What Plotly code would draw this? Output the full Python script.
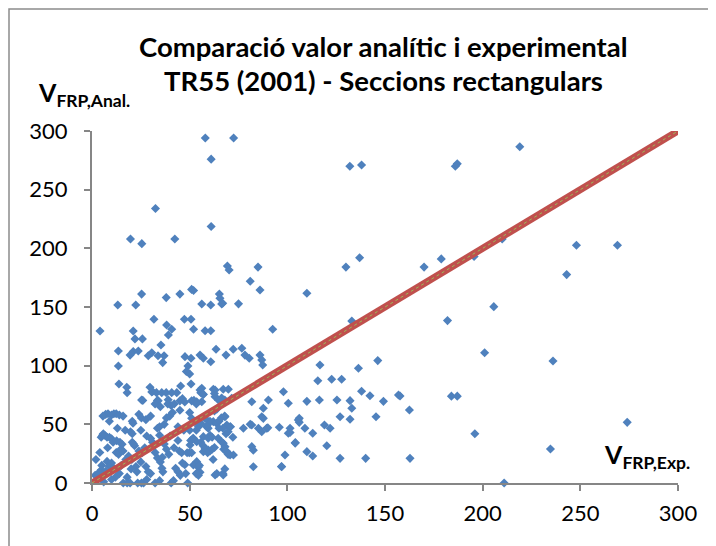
import plotly.graph_objects as go

v_exp = [
    58, 72.5, 61, 32.5, 61, 19.7, 25.5, 42.4, 132, 138, 186, 187, 219, 210, 248, 269, 243, 195.6, 178.8, 170,
    137, 130, 85, 69.3, 70.2, 81, 86, 110, 75, 65.2, 65.5, 66.9, 66.4, 56.2, 60.8, 51, 52, 45, 38, 22.4,
    13.2, 25.4, 4.1, 21.1, 22, 25.8, 31.7, 38.2, 40.8, 39.1, 47.3, 50.7, 52, 57.9, 60.8, 133, 182, 205.7, 92.5,
    13.5, 13.5, 19.5, 21.1, 23.7, 28.8, 30.6, 33.8, 36.9, 35.3, 36.2, 47.6, 50.7, 49.1, 48.3, 50, 55.3, 57, 60.8,
    63.5, 68.6, 72.3, 76.7, 78.3, 80.5, 86, 86.9, 87.4, 116.7, 201, 236, 146.3, 136.4, 115.6, 122.7, 127.8,
    13.8, 17.8, 18, 29.7, 31, 45.4, 50.7, 30.6, 33, 35.7, 38, 40.8, 43.4, 56.2, 55.3, 62.1, 63, 67.2, 69.8, 57,
    25.4, 33.5, 33.9, 39, 45, 51, 46.3, 47.5, 52.2, 53.6, 56.2, 63, 64.7, 66.4, 68, 71.5, 81.8, 90.3, 98, 87.7,
    100.5, 62.7, 38.8, 40.5, 42.1, 32.3, 53.4, 26,
    138, 142.3, 156.9, 157.7, 110, 116.4, 125.4, 132.1, 133, 149.2, 162.5, 184, 187,
    106.1, 106.1, 101.4, 101.4, 109, 113, 119, 121.9, 127, 132.1, 145.4, 104.1, 110, 113, 120.2, 127, 140.1,
    162.8, 97, 196, 274, 234.7, 211,
    86.9, 87.7, 105.6, 51, 52.7, 55.3, 58.7, 59.5, 62.1, 63.8, 69, 70.7, 68.1, 77.5, 81.8, 85.2, 86.9, 89.4,
    95.9, 100.5,
    51.9, 53.6, 50.2, 57, 59.5, 64.6, 66.3, 57.9, 59.5, 57, 67.2, 68.1, 69, 70.7, 72.4, 53.6, 51.9, 54.4, 55.3,
    53.6, 63, 67.2, 81.8, 82.6, 82.6, 97.1, 98.8, 104, 81, 90,
    4, 1.6, 3, 4.7, 5.4, 6.5, 7.7, 4.7, 5.8, 8.9, 10, 10.8, 7, 8.2, 10, 11.2, 12.4, 14, 15.9, 5.6, 8.9, 7.7,
    10, 8.9, 11.2, 12.4, 13.6, 14.7, 15.9, 12.6, 14.3, 15.4, 13, 14, 16, 18, 19.5, 17.3, 18.7, 20.4, 19.7,
    20.6, 20.6, 21, 21.8, 22.5, 23, 20.6, 21.3, 24, 25.7, 24, 25.3, 27.6, 30, 27.6, 28.8, 30, 23.4, 25.3, 26.4,
    31, 31.8, 32.3, 33.5, 33.5, 34.6, 34.6, 35.8, 36.3, 32.3, 34.6, 37, 38.1, 39.3, 38.1, 39.8, 41.2, 40.5,
    41.7, 42.8, 44, 45.2, 44, 44.7, 45.9, 46.3, 47.5, 48.7, 49.8, 51, 49, 50.5, 51.5, 53.4, 54.5, 55.7, 53.4,
    54.5, 55.7, 56.9, 58, 59.2, 60.4, 61.5, 62.7, 59.2, 60.4, 60.4, 61.5, 62.7, 63.9, 63.9, 67, 63.9, 65,
    66.2, 65, 67, 67.4, 68.6, 69.7, 67.9, 68.6, 69.7, 70.9, 72.1, 66.2, 67.4, 55.7, 56.9,
    42, 28, 25, 47, 37, 30, 15, 5, 3, 7, 12, 20, 25, 35, 48, 55, 62, 68, 58, 50, 45, 35, 8, 2, 17, 27, 40,
    44, 50, 36, 18, 10, 6, 28,
]
v_anal = [
    294, 294, 276, 234, 218.6, 208, 204, 208, 270, 271, 270, 272, 286.6, 208, 202.6, 202.6, 177.6, 193, 191, 184,
    192, 184, 184, 185, 181.5, 172, 164.5, 161.7, 152.7, 161, 157.4, 153.2, 152.6, 152.6, 151.7, 165, 164, 161, 158, 151.7,
    151.7, 161, 129.6, 129.6, 122.8, 122.8, 139.5, 134.7, 131, 126.2, 139.5, 139.5, 131, 129.8, 129.8, 138, 138.4, 150.3, 131,
    112.5, 99.7, 109, 112, 112.5, 108.5, 111, 108.5, 108.5, 117.6, 102.6, 107.7, 106.3, 99.7, 95, 93, 109, 106.3, 103.4,
    114, 109, 114, 114.8, 109, 106.3, 109, 104.9, 100.6, 100.6, 111, 104, 104.3, 97.8, 87.2, 88.4, 88.4,
    84.4, 81.6, 77, 81.6, 78, 82.7, 84.4, 77.5, 77, 77, 77, 77, 77, 80.7, 79.3, 79.9, 79.3, 79.9, 79.9, 75.5,
    70.8, 70.4, 70, 71, 70, 70, 71.9, 69, 70.4, 69.3, 69.3, 73.6, 70.8, 72.5, 70.8, 72.2, 69.3, 70.8, 77.8, 63.7,
    68, 76.3, 67.4, 66, 67.4, 67.4, 67.4, 70.4,
    78.2, 74.4, 75, 74.2, 69.6, 70.8, 70.8, 70.2, 63.7, 69.6, 62.2, 74, 74,
    55.1, 51.7, 46.6, 43, 46.6, 42.4, 49.4, 46.6, 56.5, 54.3, 56.5, 34.4, 26.7, 23, 31.8, 21, 21,
    21, 14, 42, 51.7, 29, 0,
    56.5, 55.1, 53.7, 55.1, 52.3, 49.4, 48, 46.6, 52.3, 50.9, 49.4, 48, 56.5, 46.6, 49.4, 46.6, 43.7, 46.6,
    47.5, 42.4,
    38.1, 35.2, 32.4, 39.5, 38.1, 38.1, 35.2, 29.6, 28.1, 26.7, 33.8, 31, 26.7, 23.9, 23.9, 18.2, 15.3, 13.5, 9.2,
    8, 6.8, 6.8, 31, 28, 13.9, 13.9, 23.9, 34, 50, 47,
    26, 6.5, 8, 11, 40.7, 40.7, 39, 39, 42, 39, 37.7, 34.7, 58.5, 59, 58, 59, 59, 58, 57, 57, 52.6, 18.4,
    17, 14, 12.5, 26, 24.4, 28.8, 27.3, 36, 34.7, 33, 46.6, 8, 0, 0, 0, 20, 23, 20, 43.7,
    42, 52.6, 51, 31.8, 14, 9.5, 34.7, 33.3, 27.3, 25.8, 58.5, 55.5, 54, 57, 14, 9.5, 8, 0, 0, 0,
    34.7, 31.8, 26, 21.4, 46.6, 48, 40.7, 12.5, 9.5, 0, 2, 33.3, 28.8, 24.4, 55.5, 57, 60, 0,
    2, 12.5, 9.5, 6.5, 36.2, 27.3, 25.8, 17, 15.5, 25.8, 25.8, 25.8, 0, 36.2, 37.7, 45, 48, 51, 8,
    6.5, 34.7, 31.8, 28.8, 25.8, 27.3, 28.8, 30.3, 49.6, 52.6, 40.7, 39, 61.5, 63, 8, 8, 51, 52.6,
    55.5, 46.6, 46.6, 28.8, 27.3, 24.4, 57, 42, 43.7, 48, 39, 71.9, 70.4, 77, 75.7,
    30, 40, 45, 45, 50, 38, 15, 15, 3, 10, 5, 12, 18, 18, 8, 15, 20, 12, 55, 60, 62, 65, 30, 20, 45, 30, 40,
    48, 45, 22, 5, 3, 1, 3,
]

# Reference line V_anal = V_exp
line_x = [0, 300]
line_y = [0, 300]

axis_ticks = [0, 50, 100, 150, 200, 250, 300]

title_line1 = "Comparació valor analític i experimental"
title_line2 = "TR55 (2001) - Seccions rectangulars"
y_label = "V<sub>FRP,Anal.</sub>"
x_label = "V<sub>FRP,Exp.</sub>"

FONT = "Lato"
OFF = 8  # page body margin
W, H = 716 - OFF, 546 - OFF
L, T = 92 - OFF, 131 - OFF
R = W - (678 - OFF)
B = H - (483 - OFF)
PW, PH = W - L - R, H - T - B


def px_x(px):  # page pixel -> paper
    return (px - OFF - L) / PW


def px_y(py):
    return (H - B - (py - OFF)) / PH


fig = go.Figure()
fig.add_trace(go.Scatter(
    x=v_exp, y=v_anal, mode="markers",
    marker=dict(symbol="diamond", size=7, color="#4F81BD", line=dict(width=0)),
    cliponaxis=False, showlegend=False, hoverinfo="x+y",
))
fig.add_trace(go.Scatter(
    x=line_x, y=line_y, mode="lines",
    line=dict(color="#C0504D", width=7),
    cliponaxis=False, showlegend=False,
))
fig.add_trace(go.Scatter(
    x=line_x, y=line_y, mode="lines",
    line=dict(color="#9BBB59", width=1, dash="dot"),
    cliponaxis=False, showlegend=False,
))

axis_common = dict(
    range=[0, 300], tickvals=axis_ticks, showgrid=False, zeroline=False,
    showline=True, linecolor="#868686", linewidth=2,
    ticks="outside", ticklen=6, tickwidth=2, tickcolor="#868686",
    tickfont=dict(family=FONT, size=22, color="#000000"),
    fixedrange=True,
)
fig.update_xaxes(**axis_common, ticklabelstandoff=4)
fig.update_yaxes(**axis_common, ticklabelstandoff=12)

annotations = [
    dict(text="<b>" + title_line1 + "</b>", x=px_x(383), y=px_y(46), xref="paper", yref="paper",
         xanchor="center", yanchor="middle", showarrow=False,
         font=dict(family=FONT, size=27.5, color="#000000")),
    dict(text="<b>" + title_line2 + "</b>", x=px_x(383), y=px_y(80), xref="paper", yref="paper",
         xanchor="center", yanchor="middle", showarrow=False,
         font=dict(family=FONT, size=27.5, color="#000000")),
    dict(text="<b>" + y_label + "</b>", x=px_x(36), y=px_y(94), xref="paper", yref="paper",
         xanchor="left", yanchor="middle", showarrow=False,
         font=dict(family=FONT, size=25, color="#000000")),
    dict(text="<b>" + x_label + "</b>", x=px_x(692), y=px_y(456), xref="paper", yref="paper",
         xanchor="right", yanchor="middle", showarrow=False,
         font=dict(family=FONT, size=25, color="#000000")),
]

fig.update_layout(
    width=W, height=H,
    margin=dict(l=L, r=R, t=T, b=B),
    paper_bgcolor="white", plot_bgcolor="white",
    annotations=annotations,
    shapes=[dict(type="rect", xref="paper", yref="paper",
                 x0=px_x(9), x1=px_x(711), y0=px_y(570), y1=px_y(9),
                 line=dict(color="#8c8c8c", width=1.5), fillcolor="rgba(0,0,0,0)", layer="below")],
    showlegend=False,
)

fig.write_html("out.html")
